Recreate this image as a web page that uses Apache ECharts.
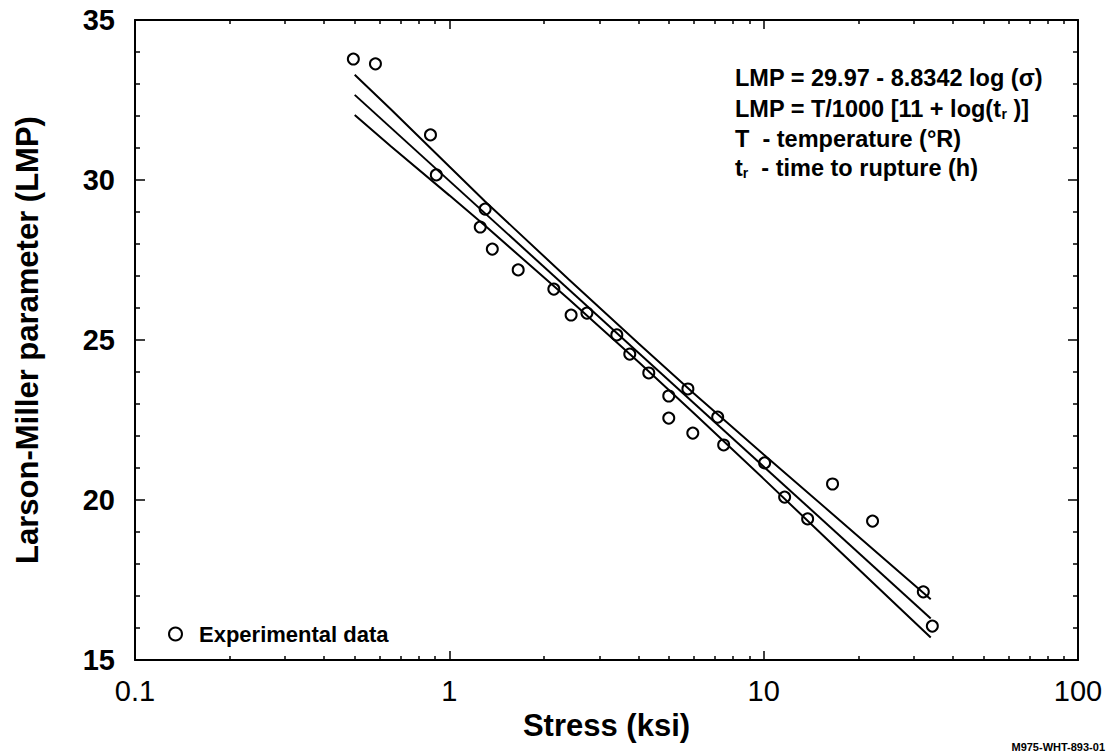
<!DOCTYPE html>
<html>
<head>
<meta charset="utf-8">
<script src="https://cdn.jsdelivr.net/npm/echarts@6/dist/echarts.min.js"></script>
<style>
html,body{margin:0;padding:0;background:#fff;}
#chart{width:1109px;height:756px;}
</style>
</head>
<body>
<div id="chart"></div>
<script>
// ---- data ----
var stressData = [0.495, 0.582, 0.871, 0.909, 1.30, 1.254, 1.37, 1.656, 2.15, 2.44, 2.74, 3.41, 3.75, 4.31, 4.99, 4.99, 5.74, 5.95, 7.14, 7.46, 10.07, 11.66, 13.8, 16.56, 22.2, 32.2, 34.4];
var lmpData    = [33.78, 33.63, 31.41, 30.16, 29.09, 28.53, 27.84, 27.19, 26.59, 25.78, 25.84, 25.16, 24.56, 23.97, 23.25, 22.56, 23.47, 22.09, 22.59, 21.72, 21.16, 20.09, 19.41, 20.5, 19.34, 17.13, 16.06];

var fitStress = [0.5, 34];
var fitLmp    = [32.66, 16.3];

var bandStress = [0.5, 0.65, 1, 1.3, 2.4, 4, 6, 10, 16, 27, 34];
var bandUpper  = [33.29, 32.22, 30.42, 29.33, 26.89, 24.89, 23.33, 21.42, 19.69, 17.75, 16.90];
var bandLower  = [32.03, 31.06, 29.52, 28.57, 26.27, 24.31, 22.71, 20.66, 18.75, 16.63, 15.70];

var xMajorTicks = [0.1, 1, 10, 100];
var xMinorTicks = [0.2,0.3,0.4,0.5,0.6,0.7,0.8,0.9, 2,3,4,5,6,7,8,9, 20,30,40,50,60,70,80,90];
var yMin = 15, yMax = 35, yStep = 5;

var annotationLines = [
  'LMP = 29.97 - 8.8342 log (σ)',
  'LMP = T/1000 [11 + log(t{s|r} )]',
  'T  - temperature (°R)',
  't{s|r}  - time to rupture (h)'
];
var legendName = 'Experimental data';
var figureId = 'M975-WHT-893-01';

// ---- build ----
function zip(a, b) { return a.map(function (v, i) { return [v, b[i]]; }); }
var FONT = '"Liberation Sans", Arial, Helvetica, sans-serif';

var chart = echarts.init(document.getElementById('chart'), null, {renderer: 'svg'});

function logAxis(pos, major, showLabel) {
  var vals = major ? xMajorTicks : xMinorTicks;
  return {
    type: 'log', logBase: 10, min: 0.1, max: 100, position: pos,
    axisLine: {show: major, lineStyle: {color: '#000', width: 2}},
    axisTick: {show: true, inside: true, length: major ? 9 : 4, customValues: vals,
               lineStyle: {color: '#000', width: 1.5}},
    axisLabel: {show: showLabel, customValues: xMajorTicks, color: '#000', fontSize: 29,
                fontFamily: FONT, margin: 16,
                formatter: function (v) { return String(+v.toPrecision(3)); }},
    splitLine: {show: false}, minorTick: {show: false}, minorSplitLine: {show: false}
  };
}
function valAxis(pos, showLabel) {
  return {
    type: 'value', min: yMin, max: yMax, interval: yStep, position: pos,
    axisLine: {show: true, lineStyle: {color: '#000', width: 2}},
    axisTick: {show: true, inside: true, length: 10, lineStyle: {color: '#000', width: 1.5}},
    minorTick: {show: true, splitNumber: 5, length: 5, lineStyle: {color: '#000', width: 1.5}},
    axisLabel: {show: showLabel, color: '#000', fontSize: 29, fontWeight: 'bold', fontFamily: FONT, margin: 20},
    splitLine: {show: false},
    name: showLabel ? 'Larson-Miller parameter (LMP)' : '',
    nameLocation: 'middle', nameGap: 92,
    nameTextStyle: {color: '#000', fontSize: 31, fontWeight: 'bold', fontFamily: FONT}
  };
}

var xAxes = [logAxis('bottom', true, true), logAxis('bottom', false, false),
             logAxis('top', true, false), logAxis('top', false, false)];
xAxes[0].name = 'Stress (ksi)';
xAxes[0].nameLocation = 'middle';
xAxes[0].nameGap = 50;
xAxes[0].nameTextStyle = {color: '#000', fontSize: 31, fontWeight: 'bold', fontFamily: FONT};

var lineStyle = {color: '#000', width: 2};

var option = {
  animation: false,
  backgroundColor: '#fff',
  grid: {left: 135, right: 31, top: 20, bottom: 96, containLabel: false},
  xAxis: xAxes,
  yAxis: [valAxis('left', true), valAxis('right', false)],
  legend: {
    left: 163, top: 618, orient: 'vertical',
    itemWidth: 13, itemHeight: 13,
    data: [{name: legendName, icon: 'circle'}],
    textStyle: {color: '#000', fontSize: 22, fontWeight: 'bold', fontFamily: FONT, padding: [0, 0, 0, 12]}
  },
  series: [
    {name: 'upper', type: 'line', data: zip(bandStress, bandUpper), showSymbol: false, symbol: 'none',
     lineStyle: lineStyle, silent: true, z: 2},
    {name: 'fit', type: 'line', data: zip(fitStress, fitLmp), showSymbol: false, symbol: 'none',
     lineStyle: lineStyle, silent: true, z: 2},
    {name: 'lower', type: 'line', data: zip(bandStress, bandLower), showSymbol: false, symbol: 'none',
     lineStyle: lineStyle, silent: true, z: 2},
    {name: legendName, type: 'scatter', data: zip(stressData, lmpData), symbol: 'circle',
     symbolSize: 11, itemStyle: {color: 'rgba(255,255,255,0)', borderColor: '#000', borderWidth: 2, opacity: 1}, z: 3}
  ],
  graphic: []
};

var lineY = [80, 111, 141, 170];
annotationLines.forEach(function (t, i) {
  option.graphic.push({
    type: 'text', left: 735, top: lineY[i] - 14,
    style: {
      text: t, fill: '#000', font: 'bold 23.5px ' + FONT,
      rich: {s: {fontSize: 14, fontWeight: 'bold', fontFamily: FONT, fill: '#000', verticalAlign: 'bottom', padding: [10, 0, 0, 0]}}
    }
  });
});
option.graphic.push({
  type: 'text', right: 4, top: 741,
  style: {text: figureId, fill: '#000', font: 'bold 11px ' + FONT}
});

chart.setOption(option);
</script>
</body>
</html>
